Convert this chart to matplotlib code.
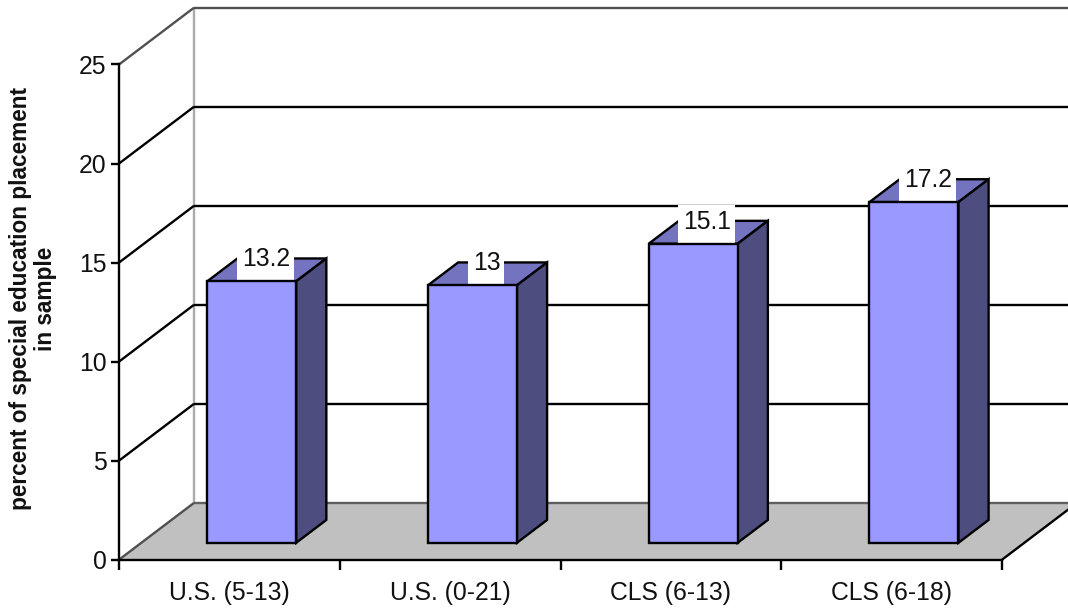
import matplotlib
matplotlib.use("Agg")
import matplotlib.pyplot as plt
from matplotlib.patches import Polygon, Rectangle
from matplotlib.transforms import IdentityTransform

plt.rcParams["font.family"] = ["Liberation Sans", "DejaVu Sans"]

# Chart data
categories = ["U.S. (5-13)", "U.S. (0-21)", "CLS (6-13)", "CLS (6-18)"]
placement_pct = [13.2, 13, 15.1, 17.2]
value_labels = ["13.2", "13", "15.1", "17.2"]
y_ticks = [0, 5, 10, 15, 20, 25]
y_title = "percent of special education placement\nin sample"

W, H = 1068, 609
LEFT, RIGHT, BOTTOM, TOP = 119, 1002, 559.7, 64.5
LW = 1.7
TEXT_PT = 17.8
TEXT_COLOR = "#111111"

fig = plt.figure(figsize=(W / 100, H / 100), dpi=100, facecolor="white")
ax = fig.add_axes([LEFT / W, 1 - BOTTOM / H, (RIGHT - LEFT) / W, (BOTTOM - TOP) / H])
ax.set_xlim(0, len(categories))
ax.set_ylim(y_ticks[0], y_ticks[-1])
ax.patch.set_visible(False)

# Oblique projection: depth 0 is the front plane, depth 1 the back wall
px_per_cat = (RIGHT - LEFT) / len(categories)
px_per_val = (BOTTOM - TOP) / y_ticks[-1]
DX = 75 / px_per_cat
DY = 56.8 / px_per_val
X_END = len(categories)


def proj(x, v, d):
    return (x + d * DX, v + d * DY)


def face(points, color, z, edge="black", lw=LW):
    ax.add_patch(Polygon([proj(*p) for p in points], closed=True, facecolor=color,
                         edgecolor=edge, linewidth=lw, joinstyle="miter",
                         clip_on=False, zorder=z))


def line(a, b, color, z, lw=LW):
    p, q = proj(*a), proj(*b)
    ax.plot([p[0], q[0]], [p[1], q[1]], color=color, lw=lw, clip_on=False,
            zorder=z, solid_capstyle="butt")


# Floor
face([(0, 0, 0), (X_END, 0, 0), (X_END, 0, 1), (0, 0, 1)], "#C0C0C0", 1, edge="none")
line((0, 0, 1), (X_END, 0, 1), "#606060", 1.2)
line((X_END, 0, 0), (X_END, 0, 1), "black", 1.3)
line((0, 0, 0), (0, 0, 1), "#505050", 1.3)

# Back wall edge, gridlines and side-wall diagonals
line((0, y_ticks[0], 1), (0, y_ticks[-1], 1), "#ABABAB", 1.1)
for v in y_ticks[1:]:
    outer = v == y_ticks[-1]
    col = "#505050" if outer else "black"
    line((0, v, 0), (0, v, 1), col, 1.3)
    line((0, v, 1), (X_END, v, 1), col, 1.3)

# Bars
D0, D1 = 0.298, 0.70
BAR_W = 0.403
front_c, side_c, top_c = "#9999FF", "#4D4D80", "#7373BF"
renderer = fig.canvas.get_renderer()
for i, (val, lab) in enumerate(zip(placement_pct, value_labels)):
    x0 = i + 0.5 - BAR_W / 2
    x1 = x0 + BAR_W
    face([(x0, val, D0), (x1, val, D0), (x1, val, D1), (x0, val, D1)], top_c, 3)
    face([(x1, 0, D0), (x1, 0, D1), (x1, val, D1), (x1, val, D0)], side_c, 5)
    face([(x0, 0, D0), (x1, 0, D0), (x1, val, D0), (x0, val, D0)], front_c, 5)
    anchor = proj(i + 0.5, val, D0)
    label = ax.annotate(lab, xy=anchor, xytext=(14, 15), textcoords="offset pixels",
                        ha="center", va="baseline", fontsize=TEXT_PT, color=TEXT_COLOR,
                        zorder=4.5, annotation_clip=False)
    # White plate behind the value, resting on the bar's front top edge
    ext = label.get_window_extent(renderer)
    base_y = ax.transData.transform(anchor)[1]
    ax.add_patch(Rectangle((ext.x0 - 5, base_y), ext.width + 9, 39, facecolor="white",
                           edgecolor="none", transform=IdentityTransform(),
                           clip_on=False, zorder=4))

# Axes furniture
for side in ("top", "right"):
    ax.spines[side].set_visible(False)
for side in ("left", "bottom"):
    ax.spines[side].set_linewidth(LW)
    ax.spines[side].set_zorder(6)
ax.set_yticks(y_ticks)
ax.set_xticks(range(len(categories) + 1))
ax.set_xticklabels([])
ax.set_xticks([i + 0.5 for i in range(len(categories))], minor=True)
ax.set_xticklabels(categories, minor=True, fontsize=TEXT_PT, color=TEXT_COLOR)
ax.tick_params(axis="x", which="major", length=7.5, width=LW, direction="out")
ax.tick_params(axis="x", which="minor", length=0, pad=15.5)
ax.tick_params(axis="y", length=6, width=LW, direction="out", pad=3, labelsize=TEXT_PT,
               labelcolor=TEXT_COLOR)

fig.text(33 / W, 1 - 299 / H, y_title, rotation=90, ha="center", va="center",
         fontsize=16.3, fontweight="bold", color=TEXT_COLOR, linespacing=1.12,
         multialignment="center")

fig.savefig("out.png", dpi=100, facecolor="white")
